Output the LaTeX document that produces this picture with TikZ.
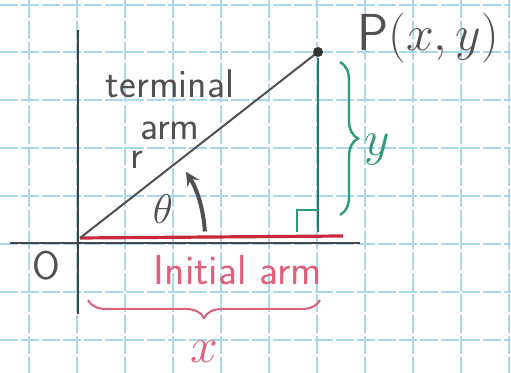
\documentclass[tikz,border=0pt]{standalone}
\usepackage{amsmath,amssymb}
\usepackage{tikz}
\usetikzlibrary{decorations.pathreplacing}
\definecolor{gridblue}{HTML}{A8D8EE}
\definecolor{ink}{HTML}{505050}
\definecolor{armred}{HTML}{C8283C}
\definecolor{pinkink}{HTML}{E0607A}
\definecolor{greenink}{HTML}{2E9A78}
\tikzset{
  hand/.style={text=ink,font=\sffamily\fontsize{20}{21}\selectfont},
  pinkhand/.style={text=pinkink,font=\sffamily\fontsize{21}{22}\selectfont},
  gridline/.style={gridblue,dashed,dash pattern=on 9pt off 1.5pt,line width=1pt}
}
\begin{document}
\begin{tikzpicture}[x=0.5pt,y=-0.5pt,>=stealth]
\useasboundingbox[fill=white] (0,0) rectangle (511,373);
\foreach \gx in {29,77,125,173,221,269,317,365,413,461,509}
  \draw[gridline] (\gx,0) -- (\gx,373);
\foreach \gy in {5,52,100,148,196,244,292,340}
  \draw[gridline] (0,\gy) -- (511,\gy);
\coordinate (O) at (80,238);
\coordinate (P) at (318,52);
\coordinate (Iend) at (343,236);
\coordinate (xl) at (10,243);
\coordinate (xr) at (360,243);
\coordinate (yt) at (78,30);
\coordinate (yb) at (78,314);
\coordinate (Pfoot) at (318,232);
\coordinate (Ptop) at (318,58);
\draw[ink!90!black,line width=1.3pt] (xl) -- (xr);
\draw[ink!80!black,line width=1.3pt] (yt) -- (yb);
\draw[armred,line width=1.6pt] (O) -- (Iend);
\draw[ink,line width=1pt] (O) -- (P);
\fill[black!80] (P) circle (5);
\draw[greenink!80!black,line width=1.4pt] (Ptop) -- (Pfoot);
\draw[greenink,line width=1.2pt] (297,232) -- (297,210) -- (318,210);
\draw[greenink,line width=1.2pt,decorate,decoration={brace,amplitude=9pt}] (340,62) -- (340,215);
\draw[pinkink,line width=1pt,decorate,decoration={brace,amplitude=9pt}] (320,300) -- (88,300);
\draw[->,ink,line width=2pt] ([shift={(-3:125)}]O) arc[start angle=-3,end angle=-32,radius=125];
\node[hand,align=center] (term) at (170,105) {terminal\\arm};
\node[hand] (rlab) at (137,160) {r};
\node[hand] (theta) at (163,209) {$\theta$};
\node[hand] (olab) at (46,266) {O};
\node[hand,font=\sffamily\fontsize{26}{27}\selectfont] (Plab) at (428,38) {P$(x,y)$};
\node[text=greenink,font=\fontsize{26}{27}\selectfont] (ylab) at (377,150) {$y$};
\node[pinkhand] (ilab) at (238,270) {Initial arm};
\node[text=pinkink,font=\fontsize{26}{27}\selectfont] (xlab) at (204,352) {$x$};
\end{tikzpicture}
\end{document}
